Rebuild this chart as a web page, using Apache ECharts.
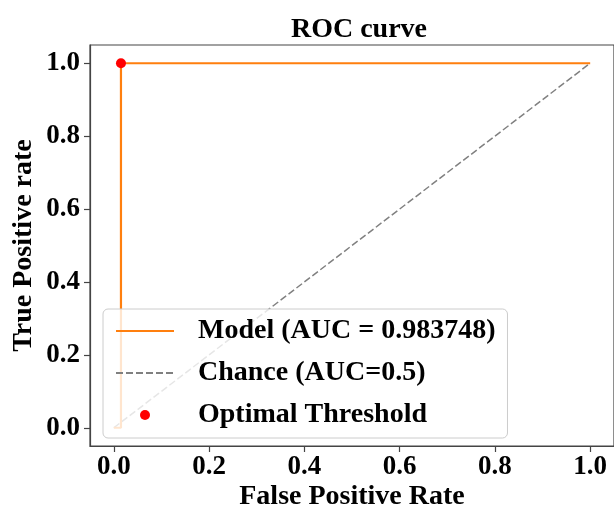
<!DOCTYPE html>
<html>
<head>
<meta charset="utf-8">
<script src="https://cdn.jsdelivr.net/npm/echarts@6/dist/echarts.min.js"></script>
<style>
html,body{margin:0;padding:0;background:#fff;}
#chart{width:614px;height:516px;}
</style>
</head>
<body>
<div id="chart"></div>
<script>
// ---- data ----
const rocFpr = [0.0, 0.015, 0.015, 1.0];
const rocTpr = [0.0, 0.0, 1.0, 1.0];
const chanceFpr = [0.0, 1.0];
const chanceTpr = [0.0, 1.0];
const optimalPoint = [0.015, 1.0];
const tickValues = [0, 0.2, 0.4, 0.6, 0.8, 1.0];
const seriesNames = ['Model (AUC = 0.983748)', 'Chance (AUC=0.5)', 'Optimal Threshold'];

const FONT = '"Liberation Serif", "Times New Roman", serif';
const chart = echarts.init(document.getElementById('chart'), null, {renderer: 'canvas'});

function zip(a, b) { return a.map((v, i) => [v, b[i]]); }

const axisCommon = {
  type: 'value',
  min: -0.05,
  max: 1.05,
  splitLine: {show: false},
  axisLine: {show: true, onZero: false, lineStyle: {color: '#444', width: 1.2}},
  axisTick: {show: true, length: 6, lineStyle: {color: '#444', width: 1.2}, customValues: tickValues},
  nameLocation: 'middle',
  nameMoveOverlap: false,
  nameTextStyle: {fontFamily: FONT, fontWeight: 'bold', fontSize: 28, color: '#000'}
};

chart.setOption({
  animation: false,
  backgroundColor: '#fff',
  title: {
    text: 'ROC curve',
    left: 354,
    textAlign: 'center',
    top: 11,
    textStyle: {fontFamily: FONT, fontWeight: 'bold', fontSize: 28, color: '#000'}
  },
  grid: {
    left: 90, right: -3, top: 45, bottom: 63,
    show: true, borderColor: '#444', borderWidth: 1.2, backgroundColor: 'transparent'
  },
  xAxis: Object.assign({}, axisCommon, {
    name: 'False Positive Rate',
    nameGap: 37,
    axisLabel: {
      customValues: tickValues, margin: 8,
      formatter: v => v.toFixed(1),
      fontFamily: FONT, fontWeight: 'bold', fontSize: 27, color: '#000'
    }
  }),
  yAxis: Object.assign({}, axisCommon, {
    name: 'True Positive rate',
    nameGap: 52,
    axisLabel: {
      customValues: tickValues, margin: 10,
      formatter: v => v.toFixed(1),
      fontFamily: FONT, fontWeight: 'bold', fontSize: 27, color: '#000'
    }
  }),
  legend: {
    orient: 'vertical',
    left: 103,
    top: 309,
    padding: [8, 12, 9, 12],
    itemGap: 14,
    itemWidth: 58,
    itemHeight: 10,
    backgroundColor: 'rgba(255,255,255,0.8)',
    borderColor: '#cccccc',
    borderWidth: 1,
    borderRadius: 5,
    selectedMode: false,
    textStyle: {fontFamily: FONT, fontWeight: 'bold', fontSize: 28, color: '#000', padding: [0, 0, 0, 19]},
    data: [
      {name: seriesNames[0], itemStyle: {opacity: 0}},
      {name: seriesNames[1], itemStyle: {opacity: 0}},
      {name: seriesNames[2]}
    ]
  },
  series: [
    {
      name: seriesNames[0],
      type: 'line',
      data: zip(rocFpr, rocTpr),
      symbol: 'none',
      lineStyle: {color: '#ff7f0e', width: 2.2},
      itemStyle: {color: '#ff7f0e'},
      z: 3
    },
    {
      name: seriesNames[1],
      type: 'line',
      data: zip(chanceFpr, chanceTpr),
      symbol: 'none',
      lineStyle: {color: '#808080', width: 1.5, type: [7, 3]},
      itemStyle: {color: '#808080'},
      z: 2
    },
    {
      name: seriesNames[2],
      type: 'scatter',
      data: [optimalPoint],
      symbol: 'circle',
      symbolSize: 10,
      itemStyle: {color: '#ff0000', opacity: 1},
      z: 4
    }
  ]
});
</script>
</body>
</html>
